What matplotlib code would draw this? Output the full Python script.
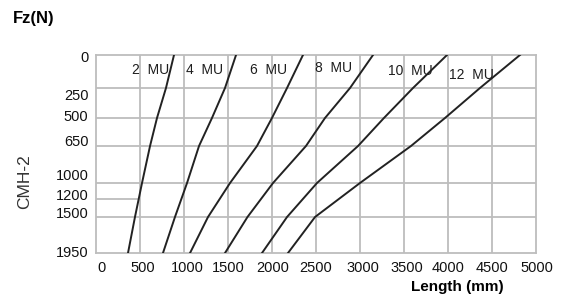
import matplotlib
matplotlib.use("Agg")
import matplotlib.pyplot as plt
import matplotlib.transforms as mtransforms
import numpy as np

plt.rcParams['font.family'] = ['Liberation Sans', 'DejaVu Sans']

# Fz levels on the (non-linear) vertical axis, and the image row of each grid line
fz_levels = [0, 250, 500, 650, 1000, 1200, 1500, 1950]
fz_rows = [55, 88, 118, 146, 183, 199, 217, 253]
fz_tick_labels = ["0", "250", "500", "650", "1000", "1200", "1500", "1950"]

length_ticks = [0, 500, 1000, 1500, 2000, 2500, 3000, 3500, 4000, 4500, 5000]

# length (mm) at these Fz values
fz_points = [0, 250, 500, 650, 1000, 1500, 1950]
mu2 = [891, 800, 698, 619, 528, 448, 369]
mu4 = [1595, 1470, 1322, 1175, 1039, 902, 766]
mu6 = [2355, 2174, 2003, 1833, 1527, 1277, 1073]
mu8 = [3150, 2889, 2605, 2389, 2015, 1725, 1470]
mu10 = [3990, 3604, 3274, 2980, 2514, 2174, 1890]
mu12 = [4818, 4364, 3967, 3581, 3002, 2492, 2185]

mu_names = ["2  MU", "4  MU", "6  MU", "8  MU", "10  MU", "12  MU"]
label_x = [630, 1240, 1960, 2700, 3570, 4270]
label_fz = [110, 110, 110, 100, 120, 150]

# small pixel nudges of the tick labels, as placed in the original
ylab_nudge = [2, 7, -2, -5, -8, -4, -4, -1]
xlab_nudge = [6, 3, 4, 1, 1, 0, 3, 3, 0, 0, 1]


def fwd(v):
    return np.interp(v, fz_levels, fz_rows)


def inv(r):
    return np.interp(r, fz_rows, fz_levels)


fig = plt.figure(figsize=(5.74, 3.02), dpi=100)
ax = fig.add_axes([95.5 / 574, 1 - 253 / 302, 440.5 / 574, 198 / 302])
ax.set_yscale('function', functions=(fwd, inv))
ax.set_xlim(0, 5000)
ax.set_ylim(1950, 0)

grid_col = "#bdbdbd"
for x in length_ticks[1:-1]:
    ax.axvline(x, color=grid_col, lw=1.3, zorder=1)
for y in [250, 500, 650, 1000, 1500]:
    ax.axhline(y, color=grid_col, lw=1.3, zorder=1)
ax.plot([0, 470], [1200, 1200], color=grid_col, lw=1.3, zorder=1)

for vals in [mu2, mu4, mu6, mu8, mu10, mu12]:
    ax.plot(vals, fz_points, color="#222222", lw=1.4, zorder=3)

for name, lx, ly in zip(mu_names, label_x, label_fz):
    ax.text(lx, ly, name, ha='center', va='center', fontsize=10,
            color="#1e1e1e", zorder=4)

for s in ax.spines.values():
    s.set_color(grid_col)
    s.set_linewidth(1.3)

ax.set_xticks(length_ticks)
ax.set_xticklabels([str(t) for t in length_ticks])
ax.set_yticks(fz_levels)
ax.set_yticklabels(fz_tick_labels)
ax.tick_params(axis='both', length=0, labelsize=10.5, colors="#111111")
ax.tick_params(axis='x', pad=6)
ax.tick_params(axis='y', pad=5)

for lab, d in zip(ax.get_yticklabels(), ylab_nudge):
    lab.set_transform(lab.get_transform() +
                      mtransforms.ScaledTranslation(0, -d / 100, fig.dpi_scale_trans))
for lab, d in zip(ax.get_xticklabels(), xlab_nudge):
    lab.set_transform(lab.get_transform() +
                      mtransforms.ScaledTranslation(d / 100, 0, fig.dpi_scale_trans))

fig.text(13 / 574, 1 - 18 / 302, "Fz(N)", fontsize=12, fontweight='bold',
         ha='left', va='center')
fig.text(25 / 574, 1 - 182 / 302, "CMH-2", fontsize=12.5, rotation=90,
         ha='center', va='center', color="#333333")
fig.text(457 / 574, 1 - 287 / 302, "Length (mm)", fontsize=11,
         fontweight='bold', ha='center', va='center')

fig.savefig("out.png", dpi=100)
